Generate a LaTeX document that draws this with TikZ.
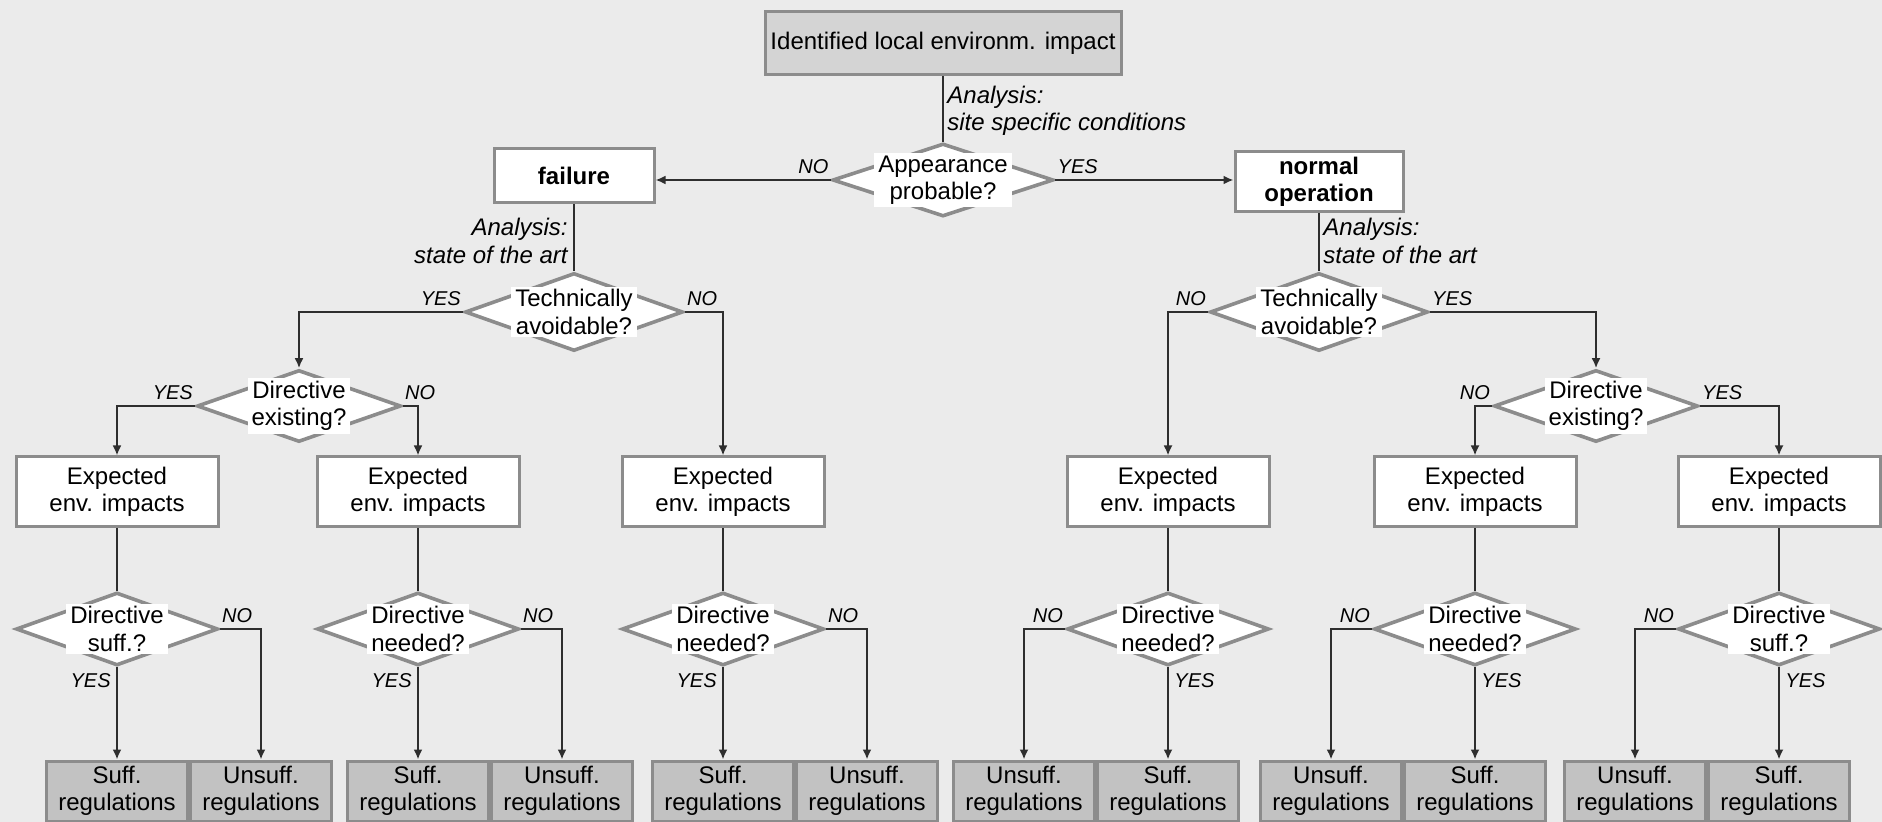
\documentclass[tikz,border=0pt]{standalone}
\usepackage{fontspec}
\setmainfont{Liberation Sans}
\usetikzlibrary{shapes.geometric,arrows.meta}
\definecolor{bgc}{HTML}{EBEBEB}
\definecolor{bordc}{HTML}{8C8C8C}
\definecolor{topc}{HTML}{D4D4D4}
\definecolor{regc}{HTML}{C2C2C2}
\definecolor{linec}{HTML}{2E2E2E}
\newcommand\mainsz{\fontsize{12pt}{13.6pt}\selectfont}
\newcommand\lblsz{\fontsize{10pt}{12pt}\selectfont\itshape}
\tikzset{
  box/.style={draw=bordc, line width=1.5pt, fill=white, inner sep=0pt, align=center, font=\mainsz},
  headbox/.style={box, font=\mainsz\bfseries},
  topbox/.style={box, fill=topc, minimum width=178pt, minimum height=31.5pt},
  expbox/.style={box, minimum width=101pt, minimum height=35pt},
  regbox/.style={box, fill=regc, minimum width=70.5pt, minimum height=30pt},
  dia/.style={diamond, draw=bordc, line width=1.8pt, fill=white, inner sep=0pt},
  bigdia/.style={dia, minimum width=109pt, minimum height=39pt},
  middia/.style={dia, minimum width=102pt, minimum height=36pt},
  lowdia/.style={dia, minimum width=101pt, minimum height=36.5pt},
  dtext/.style={fill=white, inner xsep=2pt, inner ysep=1.5pt, align=center, font=\mainsz},
  note/.style={inner sep=0pt, align=left, font=\mainsz\itshape},
  yn/.style={inner sep=1pt, font=\lblsz},
  conn/.style={draw=linec, line width=1.1pt},
  arr/.style={conn, -{Latex[length=5pt,width=4.5pt]}},
}
\begin{document}
\begin{tikzpicture}[x=0.5pt,y=-0.5pt]
\fill[bgc] (0,0) rectangle (1882,822);
\useasboundingbox (0,0) rectangle (1882,822);

% ---- top level ----
\node[topbox] (top) at (943,43) {Identified local environm. impact};
\node[dia, minimum width=110.5pt, minimum height=36.5pt] (appr) at (943,180) {};
\node[dtext] (apprt) at (appr) {Appearance\\probable?};
\node[headbox, minimum width=80pt, minimum height=27pt] (fail) at (574,176) {failure};
\node[headbox, minimum width=84pt, minimum height=30pt] (norm) at (1319,182) {normal\\operation};

% ---- second level ----
\node[bigdia] (techL) at (574,312) {};
\node[dtext] (techLt) at (techL) {Technically\\avoidable?};
\node[bigdia] (techR) at (1319,312) {};
\node[dtext] (techRt) at (techR) {Technically\\avoidable?};

\node[middia] (dexL) at (299,406) {};
\node[dtext] (dexLt) at (dexL) {Directive\\existing?};
\node[middia] (dexR) at (1596,406) {};
\node[dtext] (dexRt) at (dexR) {Directive\\existing?};

% ---- expected impacts ----
\foreach \n/\x in {1/117,2/418,3/723,4/1168,5/1475,6/1779}{
  \node[expbox] (exp\n) at (\x,492) {Expected\\env. impacts};
}

% ---- lower decisions ----
\foreach \n/\x/\t in {1/117/suff.?,2/418/needed?,3/723/needed?,4/1168/needed?,5/1475/needed?,6/1779/suff.?}{
  \node[lowdia] (low\n) at (\x,629) {};
  \node[dtext] (low\n t) at (low\n) {Directive\\\t};
}

% ---- regulation boxes ----
\foreach \n/\x in {1/117,2/418,3/723}{
  \node[regbox] (suff\n) at (\x,791) {Suff.\\regulations};
  \node[regbox] (uns\n) at (\x+144,791) {Unsuff.\\regulations};
}
\foreach \n/\x in {4/1168,5/1475,6/1779}{
  \node[regbox] (suff\n) at (\x,791) {Suff.\\regulations};
  \node[regbox] (uns\n) at (\x-144,791) {Unsuff.\\regulations};
}

% ---- connectors ----
\draw[conn] (top.south) -- (appr.north);
\draw[arr] (appr.west) -- (appr.west -| fail.east);
\draw[arr] (appr.east) -- (appr.east -| norm.west);
\draw[conn] (fail.south) -- (techL.north);
\draw[conn] (norm.south) -- (techR.north);
\draw[arr] (techL.west) -| (dexL.north);
\draw[arr] (techL.east) -| (exp3.north);
\draw[arr] (techR.west) -| (exp4.north);
\draw[arr] (techR.east) -| (dexR.north);
\draw[arr] (dexL.west) -| (exp1.north);
\draw[arr] (dexL.east) -| (exp2.north);
\draw[arr] (dexR.west) -| (exp5.north);
\draw[arr] (dexR.east) -| (exp6.north);
\foreach \n in {1,...,6}{
  \draw[conn] (exp\n.south) -- (low\n.north);
  \draw[arr] (low\n.south) -- (suff\n.north);
}
\foreach \n in {1,2,3}{ \draw[arr] (low\n.east) -| (uns\n.north); }
\foreach \n in {4,5,6}{ \draw[arr] (low\n.west) -| (uns\n.north); }

% ---- analysis notes ----
\node[note, anchor=west] (noteA) at (947,111) {Analysis:\\site specific conditions};
\node[note, anchor=east, align=right] (noteB) at (568,241) {Analysis:\\state of the art};
\node[note, anchor=west] (noteC) at (1323,241) {Analysis:\\state of the art};

% ---- YES / NO labels ----
\node[yn, anchor=south east, yshift=2pt] (l1) at (appr.west) {NO};
\node[yn, anchor=south west, yshift=2pt] (l2) at (appr.east) {YES};
\node[yn, anchor=south east, yshift=2pt] (l3) at (techL.west) {YES};
\node[yn, anchor=south west, yshift=2pt] (l4) at (techL.east) {NO};
\node[yn, anchor=south east, yshift=2pt] (l5) at (techR.west) {NO};
\node[yn, anchor=south west, yshift=2pt] (l6) at (techR.east) {YES};
\node[yn, anchor=south east, yshift=2pt] (l7) at (dexL.west) {YES};
\node[yn, anchor=south west, yshift=2pt] (l8) at (dexL.east) {NO};
\node[yn, anchor=south east, yshift=2pt] (l9) at (dexR.west) {NO};
\node[yn, anchor=south west, yshift=2pt] (l10) at (dexR.east) {YES};
\foreach \n in {1,2,3}{
  \node[yn, anchor=south west, yshift=2pt] (ln\n) at (low\n.east) {NO};
  \node[yn, anchor=north east, xshift=-2pt, yshift=-2pt] (ly\n) at (low\n.south) {YES};
}
\foreach \n in {4,5,6}{
  \node[yn, anchor=south east, yshift=2pt] (ln\n) at (low\n.west) {NO};
  \node[yn, anchor=north west, xshift=2pt, yshift=-2pt] (ly\n) at (low\n.south) {YES};
}
\end{tikzpicture}
\end{document}
